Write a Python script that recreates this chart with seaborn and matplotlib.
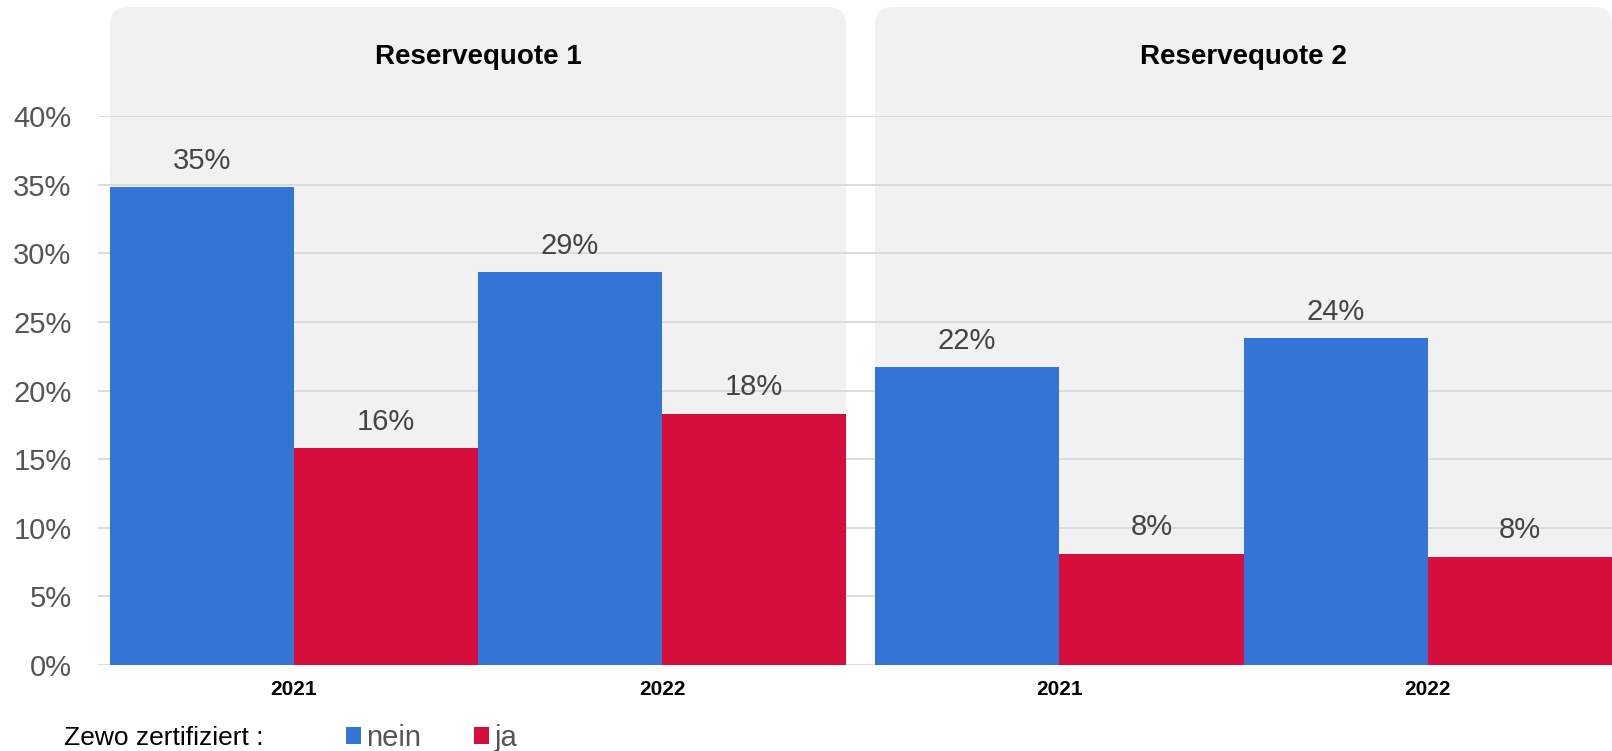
import matplotlib
matplotlib.use("Agg")
import matplotlib.pyplot as plt
from matplotlib.patches import FancyBboxPatch
from matplotlib.transforms import IdentityTransform
import seaborn as sns
import pandas as pd

# data
quoten = ["Reservequote 1", "Reservequote 2"]
jahre = ["2021", "2022"]
zewo = ["nein", "ja"]
rq1_nein = [34.8, 28.6]
rq1_ja = [15.8, 18.3]
rq2_nein = [21.7, 23.8]
rq2_ja = [8.1, 7.9]
farben = ["#3375d6", "#d50e3c"]

rows = []
for q, nein, ja in [(quoten[0], rq1_nein, rq1_ja), (quoten[1], rq2_nein, rq2_ja)]:
    for i, j in enumerate(jahre):
        rows.append((q, j, "nein", nein[i]))
        rows.append((q, j, "ja", ja[i]))
df = pd.DataFrame(rows, columns=["Quote", "Jahr", "Zewo", "Wert"])

sns.set_style("white")
plt.rcParams["font.family"] = ["Liberation Sans", "DejaVu Sans"]

W, H = 1612, 751
fig = plt.figure(figsize=(W / 100, H / 100), dpi=100)

y0, y40 = 665, 116   # pixel rows of 0% and 40%
bot = (H - y0) / H
hgt = (y0 - y40) / H

# rounded grey panels (pixel coords)
panels = [(110, 846), (875, 1612)]
for x_a, x_b in panels:
    p = FancyBboxPatch((x_a, H - y0), x_b - x_a, y0 - 7,
                       boxstyle="round,pad=0,rounding_size=18",
                       transform=IdentityTransform(), facecolor="#f1f1f1",
                       edgecolor="none", zorder=-5)
    fig.patches.append(p)

# background axes with grid + y labels
bg = fig.add_axes([98 / W, bot, (W - 98) / W, hgt])
bg.set_facecolor("none")
bg.set_ylim(0, 40)
bg.set_xlim(0, 1)
bg.set_yticks(range(0, 41, 5))
bg.set_yticklabels([f"{v}%" for v in range(0, 41, 5)], fontsize=21, color="#555555")
bg.set_xticks([])
bg.tick_params(axis="y", length=0, pad=19)
bg.grid(axis="y", color="#d9d9d9", linewidth=1.3)
for s in bg.spines.values():
    s.set_visible(False)

for k, (x_a, x_b) in enumerate(panels):
    ax = fig.add_axes([x_a / W, bot, (x_b - x_a) / W, hgt])
    ax.set_facecolor("none")
    sub = df[df["Quote"] == quoten[k]]
    sns.barplot(data=sub, x="Jahr", y="Wert", hue="Zewo", hue_order=zewo,
                order=jahre, palette=farben, width=1.0, saturation=1,
                linewidth=0, ax=ax, legend=(k == 0))
    ax.set_ylim(0, 40)
    ax.set_xlim(-0.5, 1.5)
    for c in ax.containers:
        ax.bar_label(c, labels=[f"{v:.0f}%" for v in c.datavalues],
                     padding=9, fontsize=21, color="#444444")
    ax.set_yticks([])
    ax.set_xlabel("")
    ax.set_ylabel("")
    ax.tick_params(axis="x", length=0, pad=11)
    for lab in ax.get_xticklabels():
        lab.set_fontsize(15)
        lab.set_fontweight("bold")
        lab.set_color("black")
    for s in ax.spines.values():
        s.set_visible(False)
    fig.text((x_a + x_b) / 2 / W, (H - 57) / H, quoten[k], ha="center",
             va="center", fontsize=20, fontweight="bold", color="black")
    if k == 0:
        handles, labels = ax.get_legend_handles_labels()
        ax.get_legend().remove()

fig.text(64 / W, (H - 738) / H, "Zewo zertifiziert :", fontsize=19,
         color="black", va="center", ha="left")
fig.legend(handles, labels, loc="center left",
           bbox_to_anchor=(346 / W, (H - 738) / H), ncol=2, frameon=False,
           fontsize=21, handlelength=0.5, handleheight=0.5,
           handletextpad=0.2, columnspacing=1.8, borderpad=0,
           borderaxespad=0, labelcolor="#555555")

fig.savefig("out.png", dpi=100)
